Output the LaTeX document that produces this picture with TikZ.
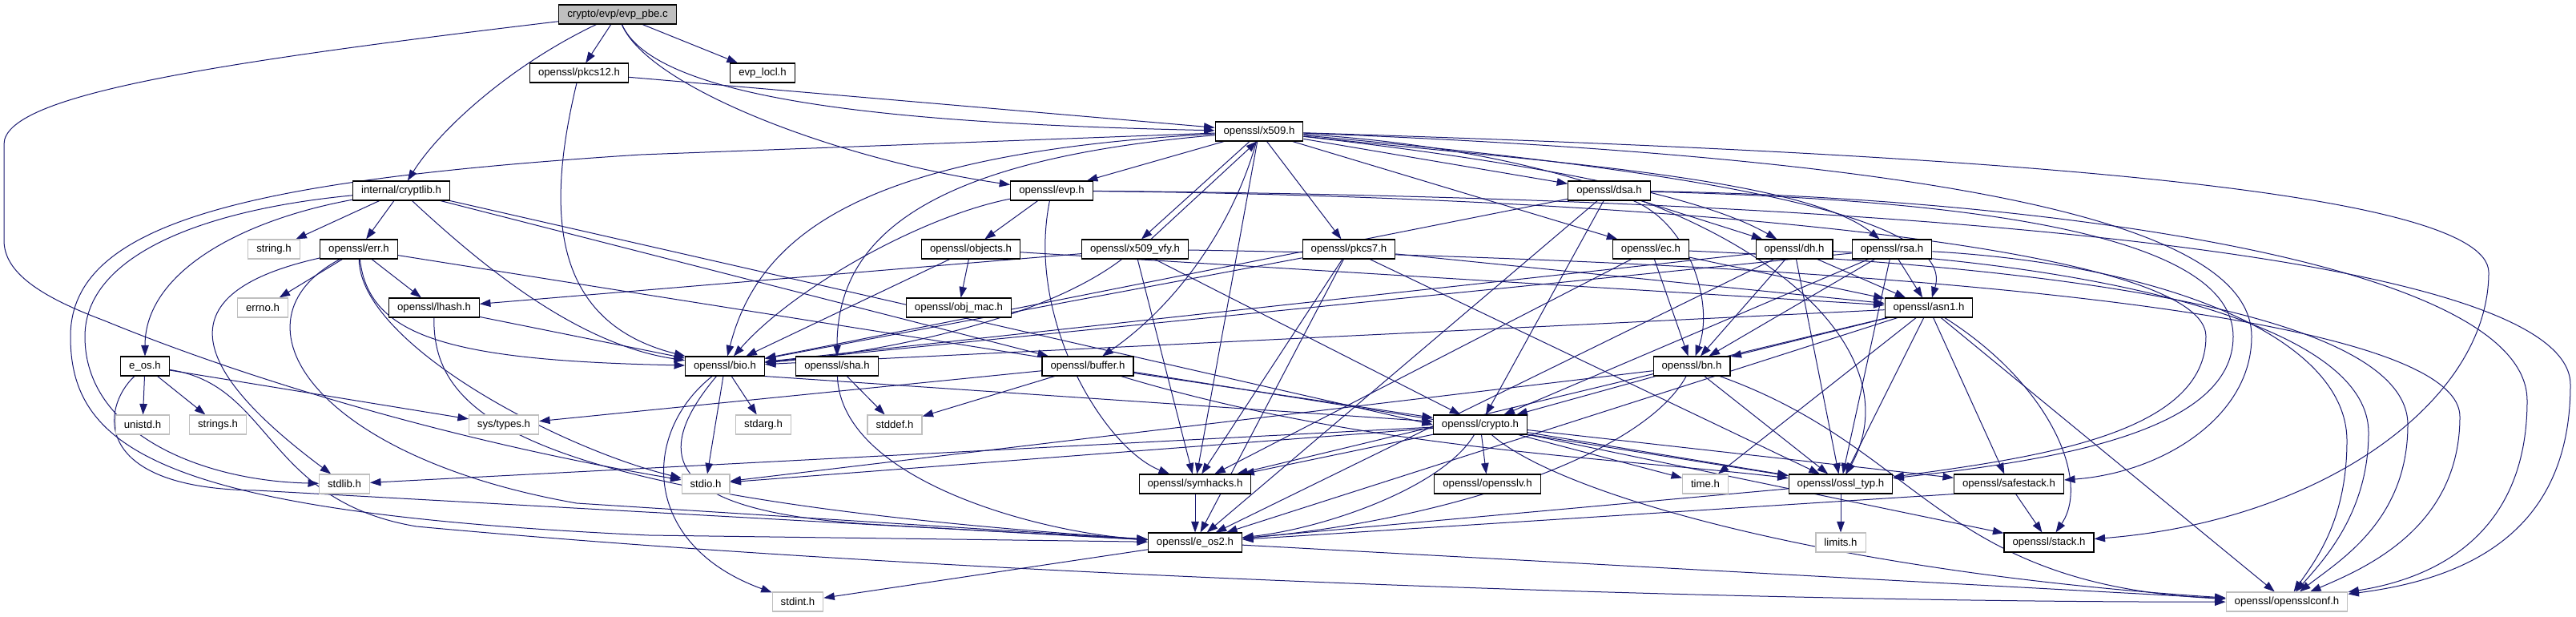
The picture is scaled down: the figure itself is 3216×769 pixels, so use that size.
\documentclass[tikz,border=0pt]{standalone}
\usepackage{fontspec}
\setmainfont{Liberation Sans}
\usetikzlibrary{arrows.meta}
\definecolor{edgecol}{HTML}{191970}
\definecolor{sysgray}{HTML}{BFBFBF}
\definecolor{rootfill}{HTML}{BFBFBF}
\pgfdeclarelayer{edgelayer}
\pgfsetlayers{edgelayer,main}
\begin{document}
\begin{tikzpicture}[x=1pt,y=-1pt,
  box/.style={draw=black, line width=1.1pt, fill=white, minimum height=24pt, inner xsep=10.5pt, inner ysep=2pt, font=\fontsize{13.2}{15}\selectfont},
  sys/.style={box, draw=sysgray},
  root/.style={box, fill=rootfill},
  dep/.style={draw=edgecol, line width=1pt, -{Triangle[length=13.5pt,width=9.5pt]}}]
\useasboundingbox (0,0) rectangle (3216,769);
\node[root] (evppbe) at (771,18) {crypto/evp/evp\_pbe.c};
\node[box] (pkcs12) at (723,91) {openssl/pkcs12.h};
\node[box] (evplocl) at (952,91) {evp\_locl.h};
\node[box] (x509) at (1572,164) {openssl/x509.h};
\node[box] (cryptlib) at (501,238) {internal/cryptlib.h};
\node[box] (evp) at (1313,238) {openssl/evp.h};
\node[box] (dsa) at (2009,238) {openssl/dsa.h};
\node[sys] (string) at (342,311) {string.h};
\node[box] (err) at (448,311) {openssl/err.h};
\node[box] (objects) at (1212,311) {openssl/objects.h};
\node[box] (x509vfy) at (1417,311) {openssl/x509\_vfy.h};
\node[box] (pkcs7) at (1684,311) {openssl/pkcs7.h};
\node[box] (ec) at (2061,311) {openssl/ec.h};
\node[box] (dh) at (2240,311) {openssl/dh.h};
\node[box] (rsa) at (2362,311) {openssl/rsa.h};
\node[sys] (errno) at (328,384) {errno.h};
\node[box] (lhash) at (542,384) {openssl/lhash.h};
\node[box] (objmac) at (1197,384) {openssl/obj\_mac.h};
\node[box] (asn1) at (2408,384) {openssl/asn1.h};
\node[box] (eos) at (181,457) {e\_os.h};
\node[box] (bio) at (905,457) {openssl/bio.h};
\node[box] (sha) at (1045,457) {openssl/sha.h};
\node[box] (buffer) at (1358,457) {openssl/buffer.h};
\node[box] (bn) at (2112,457) {openssl/bn.h};
\node[sys] (unistd) at (178,530) {unistd.h};
\node[sys] (strings) at (272,530) {strings.h};
\node[sys] (systypes) at (629,530) {sys/types.h};
\node[sys] (stdarg) at (953,530) {stdarg.h};
\node[sys] (stddef) at (1117,530) {stddef.h};
\node[box] (crypto) at (1848,530) {openssl/crypto.h};
\node[sys] (stdlib) at (430,604) {stdlib.h};
\node[sys] (stdio) at (881,604) {stdio.h};
\node[box] (symhacks) at (1492,604) {openssl/symhacks.h};
\node[box] (opensslv) at (1857,604) {openssl/opensslv.h};
\node[sys] (time) at (2129,604) {time.h};
\node[box] (ossltyp) at (2298,604) {openssl/ossl\_typ.h};
\node[box] (safestack) at (2508,604) {openssl/safestack.h};
\node[box] (eos2) at (1492,677) {openssl/e\_os2.h};
\node[sys] (limits) at (2298,677) {limits.h};
\node[box] (stack) at (2558,677) {openssl/stack.h};
\node[sys] (stdint) at (996,751) {stdint.h};
\node[sys] (conf) at (2855,751) {openssl/opensslconf.h};
\begin{pgfonlayer}{edgelayer}
% evp_pbe.c
\draw[dep] (evppbe) .. controls (250,80) and (5,120) .. (5,180) -- (5,300) .. controls (5,340) and (50,370) .. (130,400) .. controls (300,470) and (560,550) .. (stdio);
\draw[dep] (evppbe) .. controls (640,80) and (550,160) .. (cryptlib);
\draw[dep] (evppbe) -- (pkcs12);
\draw[dep] (evppbe) .. controls (820,130) and (1150,155) .. (x509);
\draw[dep] (evppbe) -- (evplocl);
\draw[dep] (evppbe) .. controls (810,110) and (1050,200) .. (evp);
% cryptlib
\draw[dep] (cryptlib) .. controls (250,262) and (106,320) .. (106,420) .. controls (106,540) and (250,600) .. (stdlib);
\draw[dep] (cryptlib) -- (string);
\draw[dep] (cryptlib) .. controls (300,275) and (181,340) .. (eos);
\draw[dep] (cryptlib.south east) -- (crypto.west);
\draw[dep] (cryptlib) -- (buffer);
\draw[dep] (cryptlib) .. controls (600,330) and (720,430) .. (bio);
\draw[dep] (cryptlib) -- (err);
% e_os.h
\draw[dep] (eos) .. controls (340,480) and (330,625) .. (520,657) .. controls (1200,720) and (2200,752) .. (conf);
\draw[dep] (eos) .. controls (125,510) and (115,610) .. (320,612) -- (eos2);
\draw[dep] (eos) -- (unistd);
\draw[dep] (eos) -- (strings);
\draw[dep] (eos) -- (systypes);
% err.h
\draw[dep] (err) .. controls (280,400) and (390,570) .. (720,628) -- (eos2);
\draw[dep] (err) .. controls (450,430) and (700,560) .. (stdio);
\draw[dep] (err) .. controls (230,360) and (210,440) .. (stdlib);
\draw[dep] (err) -- (ossltyp);
\draw[dep] (err) .. controls (460,420) and (560,450) .. (bio);
\draw[dep] (err) -- (lhash);
\draw[dep] (err) -- (errno);
% lhash.h
\draw[dep] (lhash) .. controls (540,520) and (650,620) .. (eos2);
\draw[dep] (lhash) -- (bio);
% pkcs12.h
\draw[dep] (pkcs12) .. controls (685,250) and (680,400) .. (bio);
\draw[dep] (pkcs12) -- (x509);
% x509.h
\draw[dep] (x509) -- (800,193) .. controls (300,225) and (88,280) .. (88,420) .. controls (88,560) and (200,640) .. (810,668) -- (eos2);
\draw[dep] (x509) .. controls (2150,200) and (2400,420) .. (ossltyp);
\draw[dep] (x509) -- (symhacks);
\draw[dep] (x509) .. controls (1540,280) and (1470,380) .. (buffer);
\draw[dep] (x509) -- (evp);
\draw[dep] (x509) .. controls (1100,190) and (950,280) .. (bio);
\draw[dep] (x509) .. controls (2400,190) and (3107,230) .. (3107,340) .. controls (3107,500) and (2900,650) .. (stack);
\draw[dep] (x509) .. controls (2200,220) and (2440,280) .. (asn1);
\draw[dep] (x509) .. controls (2500,200) and (2811,290) .. (2811,420) .. controls (2811,520) and (2700,590) .. (safestack);
\draw[dep] (x509) -- (ec);
\draw[dep] (x509) .. controls (1900,200) and (2250,220) .. (rsa);
\draw[dep] (x509) -- (dsa);
\draw[dep] (x509) .. controls (1800,190) and (2100,230) .. (dh);
\draw[dep] (x509) .. controls (1150,200) and (1045,300) .. (sha);
\draw[dep] ([xshift=-12pt]x509.south) -- ([xshift=8pt]x509vfy.north);
\draw[dep] (x509) -- (pkcs7);
% evp.h
\draw[dep] (evp) .. controls (2200,245) and (3209,300) .. (3209,480) .. controls (3209,650) and (3100,720) .. (conf);
\draw[dep] (evp) .. controls (2000,245) and (2754,300) .. (2754,420) .. controls (2754,540) and (2550,570) .. (ossltyp);
\draw[dep] (evp) .. controls (1280,400) and (1380,560) .. (symhacks);
\draw[dep] (evp) .. controls (1150,270) and (990,360) .. (bio);
\draw[dep] (evp) -- (objects);
% objects.h
\draw[dep] (objects) -- (objmac);
\draw[dep] (objects) -- (bio);
\draw[dep] (objects) -- (asn1);
% x509_vfy.h
\draw[dep] ([xshift=20pt]x509vfy.north) -- ([xshift=-3pt]x509.south);
\draw[dep] (x509vfy) .. controls (2000,320) and (3071,360) .. (3071,520) .. controls (3071,660) and (2950,710) .. (conf);
\draw[dep] (x509vfy) -- (lhash);
\draw[dep] (x509vfy) .. controls (1300,400) and (1100,440) .. (bio);
\draw[dep] (x509vfy) -- (crypto);
\draw[dep] (x509vfy) -- (symhacks);
% pkcs7.h
\draw[dep] (pkcs7) -- (asn1);
\draw[dep] (pkcs7) -- (bio);
\draw[dep] (pkcs7) -- (eos2);
\draw[dep] (pkcs7) -- (symhacks);
\draw[dep] (pkcs7) -- (ossltyp);
% dsa.h
\draw[dep] (dsa) .. controls (2500,245) and (3155,320) .. (3155,500) .. controls (3155,660) and (3050,720) .. (conf);
\draw[dep] (dsa) -- (eos2);
\draw[dep] (dsa) -- (bio);
\draw[dep] (dsa) -- (crypto);
\draw[dep] (dsa) .. controls (2500,250) and (2788,300) .. (2788,420) .. controls (2788,540) and (2560,575) .. (ossltyp);
\draw[dep] (dsa) .. controls (2110,280) and (2140,380) .. (bn);
\draw[dep] (dsa) -- (dh);
% ec.h
\draw[dep] (ec) .. controls (2500,330) and (3006,380) .. (3006,530) .. controls (3006,650) and (2920,700) .. (conf);
\draw[dep] (ec) -- (asn1);
\draw[dep] (ec) -- (symhacks);
\draw[dep] (ec) -- (bn);
% dh.h
\draw[dep] (dh) .. controls (2600,330) and (2957,400) .. (2957,540) .. controls (2957,640) and (2900,700) .. (conf);
\draw[dep] (dh) -- (eos2);
\draw[dep] (dh) -- (bio);
\draw[dep] (dh) -- (asn1);
\draw[dep] (dh) -- (ossltyp);
\draw[dep] (dh) -- (bn);
% rsa.h
\draw[dep] (rsa) .. controls (2700,330) and (2930,420) .. (2930,550) .. controls (2930,650) and (2890,700) .. (conf);
\draw[dep] (rsa) -- (asn1);
\draw[dep] (rsa) -- (bio);
\draw[dep] (rsa) -- (crypto);
\draw[dep] (rsa) -- (ossltyp);
\draw[dep] (rsa) -- (bn);
% asn1.h
\draw[dep] (asn1) -- (time);
\draw[dep] (asn1) -- (eos2);
\draw[dep] (asn1) -- (conf);
\draw[dep] (asn1) -- (bio);
\draw[dep] (asn1) -- (safestack);
\draw[dep] (asn1) .. controls (2560,480) and (2610,600) .. (stack);
\draw[dep] (asn1) -- (symhacks);
\draw[dep] (asn1) -- (ossltyp);
\draw[dep] (asn1) -- (bn);
% bio.h
\draw[dep] (bio) .. controls (800,540) and (800,680) .. (stdint);
\draw[dep] (bio) .. controls (810,570) and (830,640) .. (1100,655) -- (eos2);
\draw[dep] (bio) -- (stdio);
\draw[dep] (bio) -- (stdarg);
\draw[dep] (bio.south east) -- (crypto);
% sha.h
\draw[dep] (sha) .. controls (1050,600) and (1300,665) .. (eos2);
\draw[dep] (sha) -- (stddef);
% buffer.h
\draw[dep] (buffer) -- (systypes);
\draw[dep] (buffer) -- (stddef);
\draw[dep] (buffer) -- (crypto);
\draw[dep] (buffer) .. controls (1700,560) and (2000,570) .. (ossltyp);
% bn.h
\draw[dep] (bn) .. controls (2050,570) and (1800,650) .. (eos2);
\draw[dep] (bn) -- (stdio);
\draw[dep] (bn) -- (crypto);
\draw[dep] (bn) -- (ossltyp);
\draw[dep] (bn) .. controls (2400,560) and (2420,730) .. (conf);
% crypto.h
\draw[dep] (crypto) -- (stdlib);
\draw[dep] (crypto) -- (stdio);
\draw[dep] (crypto) -- (time);
\draw[dep] (crypto) .. controls (1800,610) and (1650,660) .. (eos2);
\draw[dep] (crypto) -- (safestack);
\draw[dep] (crypto) -- (opensslv);
\draw[dep] (crypto) -- (ossltyp);
\draw[dep] (crypto) .. controls (1950,620) and (2300,715) .. (conf);
\draw[dep] (crypto) -- (symhacks);
\draw[dep] (crypto) -- (stack);
% remaining
\draw[dep] (symhacks) -- (eos2);
\draw[dep] (ossltyp) -- (limits);
\draw[dep] (ossltyp) -- (eos2);
\draw[dep] (safestack) -- (stack);
\draw[dep] (safestack.south west) -- (eos2);
\draw[dep] (eos2) -- (stdint);
\draw[dep] (eos2) -- (conf);
\end{pgfonlayer}
\end{tikzpicture}
\end{document}
